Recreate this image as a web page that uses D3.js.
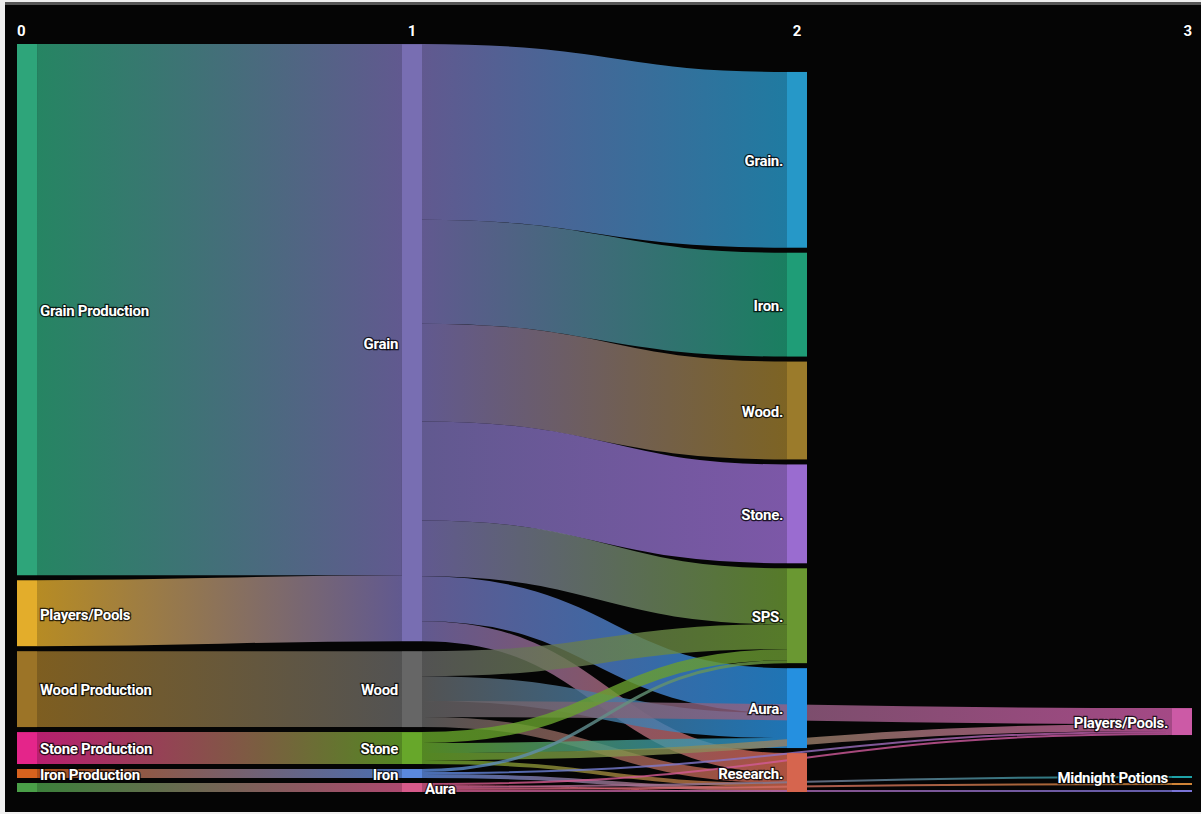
<!DOCTYPE html>
<html>
<head>
<meta charset="utf-8">
<script src="https://cdn.jsdelivr.net/npm/d3@7"></script>
<style>
  html, body { margin: 0; padding: 0; background: #f0f0f0; }
  svg { display: block; }
  text { font-family: Roboto, 'Noto Sans', sans-serif; font-weight: 700; }
</style>
</head>
<body>
<script>
// nodes of the flow, one entry per node
const nodeNames = [
  'Grain Production', 'Players/Pools', 'Wood Production', 'Stone Production', 'Iron Production', 'Aura Production',
  'Grain', 'Wood', 'Stone', 'Iron', 'Aura',
  'Grain.', 'Iron.', 'Wood.', 'Stone.', 'SPS.', 'Aura.', 'Research.',
  'Players/Pools.', 'Midnight Potions', 'Midnight Potions 2', 'Midnight Potions 3'
]
// text shown next to each node ('' = no label)
const nodeLabels = [
  'Grain Production', 'Players/Pools', 'Wood Production', 'Stone Production', 'Iron Production', '',
  'Grain', 'Wood', 'Stone', 'Iron', 'Aura',
  'Grain.', 'Iron.', 'Wood.', 'Stone.', 'SPS.', 'Aura.', 'Research.',
  'Players/Pools.', 'Midnight Potions', '', ''
]
const nodeColumns = [0, 0, 0, 0, 0, 0, 1, 1, 1, 1, 1, 2, 2, 2, 2, 2, 2, 2, 3, 3, 3, 3]
const nodeColors = [
  '#2ea57a', '#e3ad2b', '#9c7427', '#e4258a', '#d7621e', '#4a9f48',
  '#786eb2', '#666666', '#67a72a', '#5a88de', '#d65a8a',
  '#2698c8', '#1f9d77', '#9b7b2b', '#9a6cd0', '#6a9832', '#2590e0', '#d6654e',
  '#cc5aa6', '#1fa3a8', '#d08438', '#7a74d6'
]

// links
const linkSources = [
  'Grain Production', 'Players/Pools', 'Wood Production', 'Stone Production', 'Iron Production', 'Aura Production',
  'Grain', 'Grain', 'Grain', 'Grain', 'Grain', 'Grain', 'Grain',
  'Wood', 'Wood', 'Wood', 'Wood',
  'Stone', 'Stone', 'Stone', 'Stone',
  'Iron', 'Iron', 'Iron',
  'Aura', 'Aura', 'Aura', 'Aura', 'Aura'
]
const linkTargets = [
  'Grain', 'Grain', 'Wood', 'Stone', 'Iron', 'Aura',
  'Grain.', 'Iron.', 'Wood.', 'Stone.', 'SPS.', 'Aura.', 'Research.',
  'SPS.', 'Aura.', 'Players/Pools.', 'Research.',
  'SPS.', 'Aura.', 'Players/Pools.', 'Research.',
  'SPS.', 'Players/Pools.', 'Research.',
  'Players/Pools.', 'Research.', 'Midnight Potions', 'Midnight Potions 2', 'Midnight Potions 3'
]
const linkValues = [
  532, 66, 76, 32, 9, 9,
  176, 104, 98, 99, 56, 45, 20,
  25, 25, 16, 10,
  11, 10, 7, 4,
  3, 2, 4,
  2, 1, 2, 2, 2
]

const columnTitles = ['0', '1', '2', '3']

const width = 1201
const height = 814
const extentY = [44, 792]
const nodeWidth = 20
const nodePadding = 5
// how each column is placed vertically
const columnAlign = ['top', 'links', 'bottom', 'links']

const xScale = d3.scaleLinear().domain([0, 3]).range([17, 1172])

// ---- build graph
const nodes = nodeNames.map((name, i) => ({
  index: i,
  name,
  label: nodeLabels[i],
  column: nodeColumns[i],
  color: nodeColors[i],
  sourceLinks: [],
  targetLinks: []
}))
const byName = new Map(nodes.map(d => [d.name, d]))
const links = linkValues.map((value, i) => {
  const l = { source: byName.get(linkSources[i]), target: byName.get(linkTargets[i]), value }
  l.source.sourceLinks.push(l)
  l.target.targetLinks.push(l)
  return l
})

nodes.forEach(n => {
  n.value = Math.max(d3.sum(n.sourceLinks, l => l.value), d3.sum(n.targetLinks, l => l.value))
  n.x0 = xScale(n.column)
  n.x1 = n.x0 + nodeWidth
})

const columns = d3.groups(nodes, d => d.column)
  .sort((a, b) => a[0] - b[0])
  .map(d => d[1])

const ky = d3.min(columns, c => (extentY[1] - extentY[0] - (c.length - 1) * nodePadding) / d3.sum(c, d => d.value))
const valueScale = d3.scaleLinear().domain([0, 1]).range([0, ky])

nodes.forEach(n => { n.y0 = 0; n.y1 = valueScale(n.value) })
links.forEach(l => { l.width = valueScale(l.value) })

function stackTop(col) {
  let y = extentY[0]
  col.forEach(n => {
    n.y0 = y
    n.y1 = y + valueScale(n.value)
    y = n.y1 + nodePadding
  })
}

function stackBottom(col) {
  let y = extentY[1]
  col.slice().reverse().forEach(n => {
    n.y1 = y
    n.y0 = y - valueScale(n.value)
    y = n.y0 - nodePadding
  })
}

function sortLinks() {
  nodes.forEach(n => {
    n.sourceLinks.sort((a, b) => a.target.y0 - b.target.y0 || a.target.index - b.target.index)
    n.targetLinks.sort((a, b) => a.source.y0 - b.source.y0 || a.source.index - b.source.index)
  })
}

function linkOffsets() {
  nodes.forEach(n => {
    let y = n.y0
    n.sourceLinks.forEach(l => { l.sy = y; y += l.width })
    y = n.y0
    n.targetLinks.forEach(l => { l.ty = y; y += l.width })
  })
}

// put node where its (bigger) incoming links would run flat, then push apart
function alignToLinks(col) {
  col.forEach(n => {
    let s = 0
    let w = 0
    n.targetLinks.forEach(l => {
      const v = l.value * l.value
      s += (l.sy - (l.ty - n.y0)) * v
      w += v
    })
    if (w > 0) {
      n.y0 = s / w
      n.y1 = n.y0 + valueScale(n.value)
    }
  })
  col.sort((a, b) => a.y0 - b.y0)
  let y = extentY[0]
  col.forEach(n => {
    if (n.y0 < y) { n.y1 += y - n.y0; n.y0 = y }
    y = n.y1 + nodePadding
  })
  y = extentY[1]
  col.slice().reverse().forEach(n => {
    if (n.y1 > y) { n.y0 -= n.y1 - y; n.y1 = y }
    y = n.y0 - nodePadding
  })
}

for (let pass = 0; pass < 4; pass++) {
  columns.forEach((col, i) => {
    sortLinks()
    linkOffsets()
    if (columnAlign[i] === 'top') stackTop(col)
    else if (columnAlign[i] === 'bottom') stackBottom(col)
    else alignToLinks(col)
  })
}
sortLinks()
linkOffsets()

// ---- draw
const svg = d3.select('body')
  .append('svg')
  .attr('width', width)
  .attr('height', height)

svg.append('rect')
  .attr('x', 5).attr('y', 2)
  .attr('width', width - 5).attr('height', 3)
  .attr('fill', '#575757')
svg.append('rect')
  .attr('x', 5).attr('y', 5)
  .attr('width', width - 5).attr('height', 807)
  .attr('fill', '#050505')

const defs = svg.append('defs')
links.forEach((l, i) => {
  const g = defs.append('linearGradient')
    .attr('id', 'lg' + i)
    .attr('gradientUnits', 'userSpaceOnUse')
    .attr('x1', l.source.x1)
    .attr('x2', l.target.x0)
    .attr('y1', 0)
    .attr('y2', 0)
  g.append('stop').attr('offset', '0%').attr('stop-color', l.source.color)
  g.append('stop').attr('offset', '100%').attr('stop-color', l.target.color)
})

const linkPath = d3.linkHorizontal()
  .source(d => [d.source.x1, d.sy + d.width / 2])
  .target(d => [d.target.x0, d.ty + d.width / 2])

svg.append('g')
  .attr('fill', 'none')
  .attr('stroke-opacity', 0.8)
  .selectAll('path')
  .data(links)
  .join('path')
  .attr('d', linkPath)
  .attr('stroke', (d, i) => `url(#lg${i})`)
  .attr('stroke-width', d => Math.max(1, d.width))

svg.append('g')
  .selectAll('rect')
  .data(nodes)
  .join('rect')
  .attr('x', d => d.x0)
  .attr('y', d => d.y0)
  .attr('width', d => d.x1 - d.x0)
  .attr('height', d => Math.max(1, d.y1 - d.y0))
  .attr('fill', d => d.color)

// first column and the little Aura node keep their text on the right
const labelRight = d => d.column === 0 || d.name === 'Aura'

svg.append('g')
  .attr('font-size', 15)
  .attr('letter-spacing', '-0.3px')
  .attr('fill', '#fff')
  .attr('stroke', '#000')
  .attr('stroke-width', 2.5)
  .attr('stroke-opacity', 0.75)
  .attr('paint-order', 'stroke')
  .selectAll('text')
  .data(nodes.filter(d => d.label))
  .join('text')
  .attr('x', d => labelRight(d) ? d.x1 + 3 : d.x0 - 4)
  .attr('y', d => (d.y0 + d.y1) / 2)
  .attr('dy', '0.42em')
  .attr('text-anchor', d => labelRight(d) ? 'start' : 'end')
  .text(d => d.label)

svg.append('g')
  .attr('font-size', 15)
  .attr('fill', '#fff')
  .attr('stroke', '#000')
  .attr('stroke-width', 2)
  .attr('paint-order', 'stroke')
  .selectAll('text')
  .data(columnTitles)
  .join('text')
  .attr('x', (d, i) => i === 0 ? xScale(i) : i === columnTitles.length - 1 ? xScale(i) + nodeWidth : xScale(i) + nodeWidth / 2)
  .attr('y', 36)
  .attr('text-anchor', (d, i) => i === 0 ? 'start' : i === columnTitles.length - 1 ? 'end' : 'middle')
  .text(d => d)
</script>
</body>
</html>
